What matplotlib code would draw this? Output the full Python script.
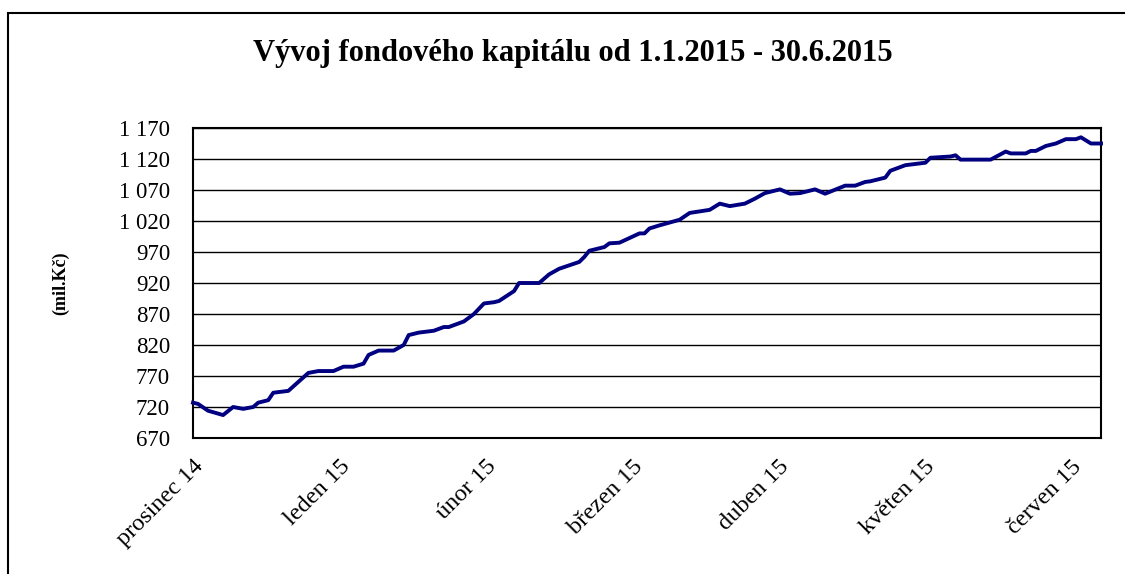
import matplotlib.pyplot as plt
from matplotlib.patches import Rectangle
import matplotlib.dates as mdates
import numpy as np
import datetime as dt

# data: days after 31.12.2014 and fund capital in mil. Kč
start = dt.date(2014, 12, 31)
days = [0, 1, 3, 6, 8, 10, 12, 13, 15, 16, 19, 23, 25, 28, 30, 32, 34, 35, 37, 40,
        42, 43, 45, 48, 50, 51, 54, 56, 58, 60, 61, 64, 65, 69, 71, 73, 77, 78, 79, 82,
        83, 85, 89, 90, 91, 93, 97, 99, 103, 105, 107, 110, 112, 114, 117, 119, 121, 124,
        126, 130, 132, 134, 135, 138, 139, 142, 146, 147, 151, 152, 153, 159, 162, 163,
        166, 167, 168, 170, 172, 174, 176, 177, 179, 181]
values = [727, 725, 714, 707, 720, 717, 720, 727, 731, 743, 746, 775, 778, 778, 785, 785, 790, 804, 811, 811,
          820, 836, 840, 843, 849, 849, 858, 870, 887, 889, 891, 907, 920, 920, 934, 943, 954, 962, 972, 978,
          984, 985, 1000, 1000, 1008, 1013, 1022, 1033, 1038, 1048, 1044, 1048, 1056, 1065, 1071, 1064, 1065, 1071,
          1064, 1077, 1077, 1083, 1084, 1090, 1101, 1110, 1114, 1122, 1124, 1126, 1119, 1119, 1132, 1129,
          1129, 1133, 1133, 1141, 1145, 1152, 1152, 1155, 1145, 1145]

month_labels = ['prosinec 14', 'leden 15', 'únor 15', 'březen 15', 'duben 15', 'květen 15', 'červen 15']
y_ticks = list(range(670, 1171, 50))

dates = [start + dt.timedelta(days=d) for d in days]

plt.rcParams['font.family'] = ['Liberation Serif', 'DejaVu Serif']

fig = plt.figure(figsize=(11.25, 5.74), dpi=100)
W, H = 1125, 574
# outer chart border (only left and top visible)
fig.patches.append(Rectangle((8 / W, -0.05), 1.2, 1 - 13 / H + 0.05, transform=fig.transFigure,
                             fill=False, edgecolor='black', linewidth=1.5))

ax = fig.add_axes([193 / W, 1 - 438 / H, (1101 - 193) / W, (438 - 128) / H])
ax.plot(dates, values, color='#000080', linewidth=2.8, clip_on=False, zorder=3,
        solid_joinstyle='round')

x0 = mdates.date2num(dates[0])
ax.set_xlim(x0, mdates.date2num(dates[-1]))
ax.set_ylim(670, 1170)
ax.set_yticks(y_ticks)
ax.set_yticklabels([f'{v:,}'.replace(',', ' ') for v in y_ticks], fontsize=16.5)
# labels are spread evenly along the axis like in the Excel original
ax.set_xticks(np.linspace(x0, x0 + 175, len(month_labels)))
ax.set_xticklabels(month_labels, fontsize=17.5, rotation=45, ha='right', rotation_mode='anchor')
ax.tick_params(axis='y', length=0, pad=16.5)
ax.tick_params(axis='x', length=0, pad=13)
ax.grid(axis='y', color='black', linewidth=1.0, zorder=0)
for sp in ax.spines.values():
    sp.set_linewidth(1.5)

fig.text(573 / W, 1 - 53 / H, 'Vývoj fondového kapitálu od 1.1.2015 - 30.6.2015',
         fontsize=22, fontweight='bold', ha='center', va='center')
fig.text(61 / W, 1 - 283 / H, '(mil.Kč)', fontsize=13, fontweight='bold', rotation=90,
         ha='center', va='center')

fig.savefig('out.png', dpi=100)
